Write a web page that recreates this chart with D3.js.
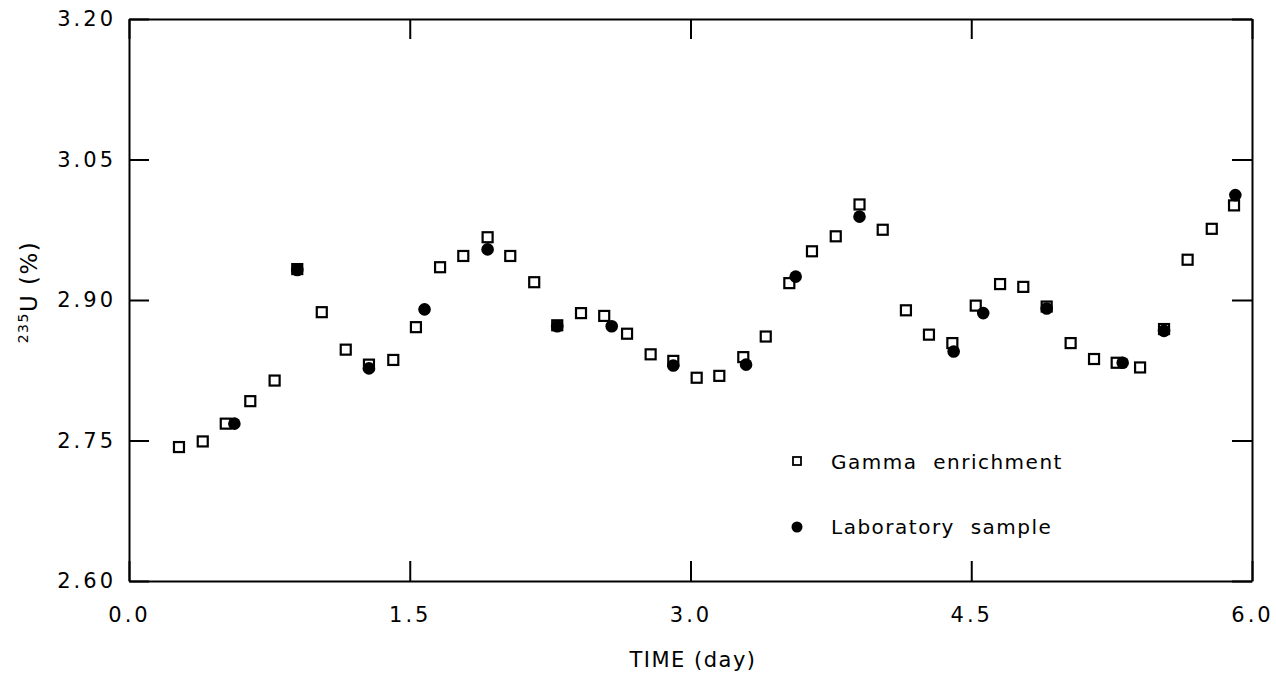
<!DOCTYPE html>
<html>
<head>
<meta charset="utf-8">
<script src="https://cdn.jsdelivr.net/npm/d3@7"></script>
<style>
  html, body { margin: 0; padding: 0; background: #fff; }
  svg { display: block; }
  text { font-family: "DejaVu Sans", sans-serif; fill: #000; }
</style>
</head>
<body>
<svg id="chart" width="1276" height="675"></svg>
<script>
// ---- Data ----
const gammaTime = [0.267, 0.394, 0.517, 0.648, 0.778, 0.899, 1.030, 1.158, 1.282, 1.412,
  1.533, 1.662, 1.786, 1.916, 2.037, 2.165, 2.288, 2.415, 2.539, 2.661,
  2.787, 2.908, 3.033, 3.154, 3.282, 3.402, 3.528, 3.649, 3.776, 3.903,
  4.027, 4.151, 4.274, 4.399, 4.524, 4.654, 4.778, 4.903, 5.031, 5.156,
  5.277, 5.402, 5.530, 5.656, 5.785, 5.904];
const gammaValue = [2.743, 2.749, 2.768, 2.792, 2.814, 2.933, 2.887, 2.847, 2.831, 2.836,
  2.871, 2.935, 2.947, 2.967, 2.947, 2.919, 2.873, 2.886, 2.883, 2.864,
  2.842, 2.835, 2.817, 2.819, 2.839, 2.861, 2.918, 2.952, 2.968, 3.002,
  2.975, 2.889, 2.863, 2.854, 2.894, 2.917, 2.914, 2.893, 2.854, 2.837,
  2.833, 2.828, 2.869, 2.943, 2.976, 3.001];
const labTime = [0.563, 0.899, 1.282, 1.579, 1.916, 2.288, 2.579, 2.908, 3.297,
  3.562, 3.903, 4.406, 4.564, 4.903, 5.309, 5.530, 5.911];
const labValue = [2.768, 2.932, 2.827, 2.890, 2.954, 2.872, 2.872, 2.830, 2.831,
  2.925, 2.989, 2.845, 2.886, 2.891, 2.833, 2.867, 3.012];
const xTicks = [0.0, 1.5, 3.0, 4.5, 6.0];
const xTickLabels = ["0.0", "1.5", "3.0", "4.5", "6.0"];
const yTicks = [2.60, 2.75, 2.90, 3.05, 3.20];
const yTickLabels = ["2.60", "2.75", "2.90", "3.05", "3.20"];
const legendLabels = ["Gamma  enrichment", "Laboratory  sample"];

// ---- Layout ----
const svg = d3.select("#chart");
const L = 129, R = 1252, T = 19, B = 581;
const x = d3.scaleLinear().domain([0, 6]).range([L, R]);
const y = d3.scaleLinear().domain([2.60, 3.20]).range([B, T]);
const tickLen = 20;

function styleAxis(g) {
  g.select(".domain").attr("stroke", "#000").attr("stroke-width", 2);
  g.selectAll(".tick line").attr("stroke", "#000").attr("stroke-width", 2);
  g.selectAll(".tick text").attr("font-size", 21).attr("fill", "#000")
    .attr("font-family", "DejaVu Sans").attr("letter-spacing", 3);
}

// bottom axis
svg.append("g").attr("transform", `translate(0,${B})`)
  .call(d3.axisBottom(x).tickValues(xTicks).tickFormat((d, i) => xTickLabels[i])
    .tickSizeInner(-tickLen).tickSizeOuter(0).tickPadding(tickLen + 1))
  .call(styleAxis)
  .call(g => g.selectAll(".tick text").attr("dy", "0.95em"));

// top axis
svg.append("g").attr("transform", `translate(0,${T})`)
  .call(d3.axisTop(x).tickValues(xTicks).tickFormat("")
    .tickSizeInner(-tickLen).tickSizeOuter(0))
  .call(styleAxis);

// left axis
svg.append("g").attr("transform", `translate(${L},0)`)
  .call(d3.axisLeft(y).tickValues(yTicks).tickFormat((d, i) => yTickLabels[i])
    .tickSizeInner(-tickLen).tickSizeOuter(0).tickPadding(13))
  .call(styleAxis);

// right axis
svg.append("g").attr("transform", `translate(${R},0)`)
  .call(d3.axisRight(y).tickValues(yTicks).tickFormat("")
    .tickSizeInner(-tickLen).tickSizeOuter(0))
  .call(styleAxis);

// axis titles
svg.append("text")
  .attr("x", 693).attr("y", 667)
  .attr("text-anchor", "middle").attr("font-size", 21).attr("letter-spacing", 1.5)
  .text("TIME (day)");

const yt = svg.append("text")
  .attr("transform", `translate(37,${292}) rotate(-90)`)
  .attr("text-anchor", "middle").attr("font-size", 23).attr("letter-spacing", 1.5);
yt.append("tspan").attr("font-size", 14).attr("dy", -9).text("235");
yt.append("tspan").attr("dy", 9).text("U (%)");

// data: gamma (open squares), lab (filled circles)
const gamma = gammaTime.map((t, i) => ({t, v: gammaValue[i]}));
const lab = labTime.map((t, i) => ({t, v: labValue[i]}));
const sq = 10;
svg.append("g").selectAll("rect").data(gamma).join("rect")
  .attr("x", d => x(d.t) - sq / 2).attr("y", d => y(d.v) - sq / 2)
  .attr("width", sq).attr("height", sq)
  .attr("fill", "#fff").attr("stroke", "#000").attr("stroke-width", 2.2);

svg.append("g").selectAll("circle").data(lab).join("circle")
  .attr("cx", d => x(d.t)).attr("cy", d => y(d.v)).attr("r", 6.3)
  .attr("fill", "#000");

// legend
const lg = svg.append("g");
lg.append("rect").attr("x", 793).attr("y", 457).attr("width", 8).attr("height", 8)
  .attr("fill", "#fff").attr("stroke", "#000").attr("stroke-width", 1.8);
lg.append("circle").attr("cx", 797).attr("cy", 527).attr("r", 5.5).attr("fill", "#000");
lg.selectAll("text").data(legendLabels).join("text")
  .attr("x", 831).attr("y", (d, i) => 469 + i * 65)
  .attr("font-size", 20).attr("letter-spacing", 1.5)
  .attr("xml:space", "preserve").style("white-space", "pre")
  .text(d => d);
</script>
</body>
</html>
